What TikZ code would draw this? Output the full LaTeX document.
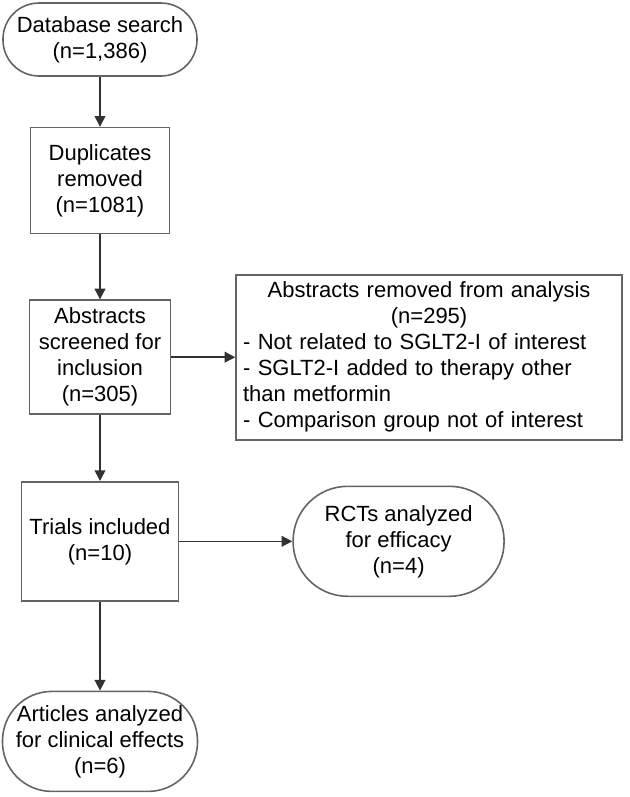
\documentclass[tikz,border=0pt]{standalone}
\usepackage{fontspec}
\setmainfont{Liberation Sans}
\usetikzlibrary{shapes,arrows.meta,positioning}

\definecolor{framegray}{RGB}{100,100,100}
\definecolor{arrowgray}{RGB}{50,50,50}

\begin{document}
\begin{tikzpicture}[
        node distance=40pt,
        font=\fontsize{16.5}{19.5}\selectfont,
        box/.style={rectangle, draw=framegray, line width=1.2pt, align=center, inner sep=2pt},
        terminal/.style={box, rounded corners=27pt},
        arrow/.style={-{Triangle[length=8pt,width=8pt]}, line width=1.2pt, draw=arrowgray}
    ]

    % Fix the margins to the reference size
    \useasboundingbox (-75pt,29.625pt) rectangle ++(472.5pt,-597.75pt);

    % Main column (LEFT)
    \node[terminal, minimum width=145.5pt, minimum height=54.75pt] (search) at (0,0) {Database search\\(n=1,386)};
    \node[box, below=37.5pt of search, minimum width=104.25pt, minimum height=79.5pt] (duplicates) {Duplicates\\removed\\(n=1081)};
    \node[box, below=48.75pt of duplicates, minimum width=105.75pt, minimum height=85.5pt] (screened) {Abstracts\\screened for\\inclusion\\(n=305)};
    \node[box, below=49.5pt of screened, minimum width=117.75pt, minimum height=89.25pt] (trials) {Trials included\\(n=10)};
    \node[terminal, below=66.75pt of trials, rounded corners=37pt, minimum width=146.25pt, minimum height=75pt] (articles) {Articles analyzed\\for clinical effects\\(n=6)};

    % Side branches (RIGHT) - positioned relative to main column
    \node[box, right=48pt of screened, text width=279pt, inner xsep=5.25pt, minimum height=123.75pt, align=left] (removed) {
        \makebox[\linewidth]{Abstracts removed from analysis}\\
        \makebox[\linewidth]{(n=295)}\\
        - Not related to SGLT2-I of interest\\
        - SGLT2-I added to therapy other\\
        than metformin\\
        - Comparison group not of interest
    };
    \node[terminal, right=84.75pt of trials, rounded corners=41pt, minimum width=158.25pt, minimum height=82.5pt] (rcts) {RCTs analyzed\\for efficacy\\(n=4)};

    % Arrows
    \draw[arrow] (search) -- (duplicates);
    \draw[arrow] (duplicates) -- (screened);
    \draw[arrow] (screened) -- (removed);
    \draw[arrow] (screened) -- (trials);
    \draw[arrow] (trials) -- (rcts);
    \draw[arrow] (trials) -- (articles);

\end{tikzpicture}
\end{document}
